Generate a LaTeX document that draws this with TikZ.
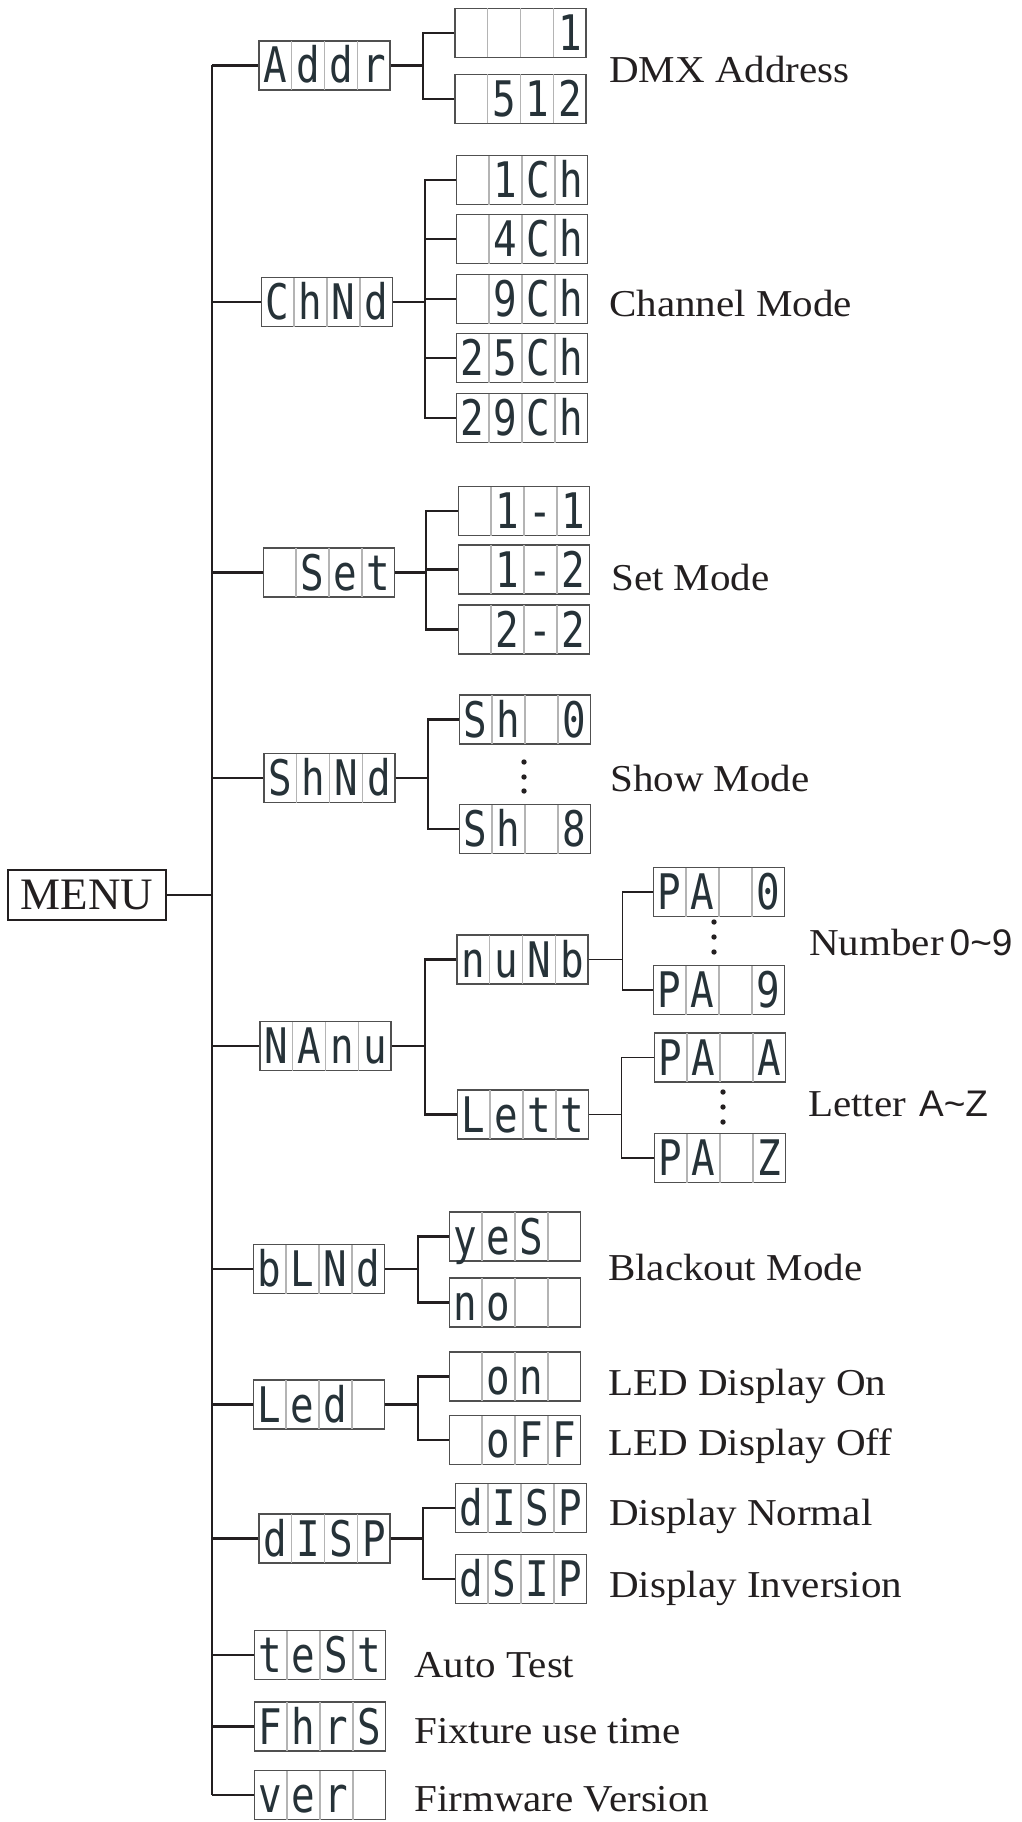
\documentclass[tikz,border=0pt]{standalone}
\usepackage{fontspec}
\setmainfont{Liberation Serif}
\newfontfamily\lblfont{Liberation Serif}[FakeStretch=1.08]
\newfontfamily\sansfont{Liberation Sans}
\newfontfamily\lcdfont{DejaVu Sans Mono}[FakeStretch=0.8]
\usepackage{tikz}
\usetikzlibrary{positioning}

\definecolor{ink}{HTML}{231F20}
\definecolor{lcdink}{HTML}{263238}
\definecolor{lcdframe}{HTML}{505050}
\definecolor{lcdsep}{HTML}{B4B4B4}
\newcommand\lcdcell[1]{\makebox[31.85pt]{#1}}
\newcommand\lcdbar{{\color{lcdsep}\vrule width 1.2pt height 42pt depth 7pt}}
\newcommand\lcd[4]{\lcdcell{#1}\lcdbar\lcdcell{#2}\lcdbar\lcdcell{#3}\lcdbar\lcdcell{#4}}

\begin{document}
\begin{tikzpicture}[x=1pt, y=-1pt,
lcdnode/.style={rectangle, draw=lcdframe, line width=1.2pt, inner sep=0pt, text height=42pt, text depth=7pt, text=lcdink, font=\lcdfont\fontsize{49}{49}\selectfont},
menunode/.style={rectangle, draw=ink, line width=1.6pt, minimum width=158pt, minimum height=50pt, inner sep=0pt, text=ink, font=\fontsize{45}{45}\selectfont},
labelnode/.style={anchor=base west, inner sep=0pt, text=ink, font=\lblfont\fontsize{38}{40}\selectfont},
link/.style={draw=ink, line width=2.2pt},
thinlink/.style={draw=ink, line width=1.6pt},
]
\useasboundingbox (0,0) rectangle (1021,1822);

%Nodes
\node[menunode]   (Menu)          at (87,895)       {MENU};
\node[lcdnode]    (Addr)          at (324.5,65.5)   {\lcd{A}{d}{d}{r}};
\node[lcdnode]    (ChNd)          at (327,302)      {\lcd{C}{h}{N}{d}};
\node[lcdnode]    (Set)           at (329,572.5)    {\lcd{}{S}{e}{t}};
\node[lcdnode]    (ShNd)          at (329.5,778)    {\lcd{S}{h}{N}{d}};
\node[lcdnode]    (NAnu)          at (325.5,1046)   {\lcd{N}{A}{n}{u}};
\node[lcdnode]    (bLNd)          at (319,1269)     {\lcd{b}{L}{N}{d}};
\node[lcdnode]    (LEd)           at (319,1404.5)   {\lcd{L}{e}{d}{}};
\node[lcdnode]    (dISP)          at (324.5,1538.5) {\lcd{d}{I}{S}{P}};
\node[lcdnode]    (tESt)          at (320,1655)     {\lcd{t}{e}{S}{t}};
\node[lcdnode]    (FhrS)          at (320,1726.5)   {\lcd{F}{h}{r}{S}};
\node[lcdnode]    (vEr)           at (320,1795)     {\lcd{v}{e}{r}{}};

\node[lcdnode]    (Addr1)         at (520.5,33)     {\lcd{}{}{}{1}};
\node[lcdnode]    (Addr512)       at (520.5,99)     {\lcd{}{5}{1}{2}};
\node[lcdnode]    (Ch1)           at (522,180)      {\lcd{}{1}{C}{h}};
\node[lcdnode]    (Ch4)           at (522,239)      {\lcd{}{4}{C}{h}};
\node[lcdnode]    (Ch9)           at (522,299)      {\lcd{}{9}{C}{h}};
\node[lcdnode]    (Ch25)          at (522,358)      {\lcd{2}{5}{C}{h}};
\node[lcdnode]    (Ch29)          at (522,418)      {\lcd{2}{9}{C}{h}};
\node[lcdnode]    (Set11)         at (524,511)      {\lcd{}{1}{-}{1}};
\node[lcdnode]    (Set12)         at (524,569.5)    {\lcd{}{1}{-}{2}};
\node[lcdnode]    (Set22)         at (524,629.5)    {\lcd{}{2}{-}{2}};
\node[lcdnode]    (Sh0)           at (525,719.5)    {\lcd{S}{h}{}{0}};
\node[lcdnode]    (Sh8)           at (525,829)      {\lcd{S}{h}{}{8}};
\node[lcdnode]    (NuNb)          at (522.5,959.5)  {\lcd{n}{u}{N}{b}};
\node[lcdnode]    (LEtt)          at (523,1114.5)   {\lcd{L}{e}{t}{t}};
\node[lcdnode]    (PA0)           at (719,892)      {\lcd{P}{A}{}{0}};
\node[lcdnode]    (PA9)           at (719,990)      {\lcd{P}{A}{}{9}};
\node[lcdnode]    (PAA)           at (720,1057.5)   {\lcd{P}{A}{}{A}};
\node[lcdnode]    (PAZ)           at (720,1158)     {\lcd{P}{A}{}{Z}};
\node[lcdnode]    (Yes)           at (515,1236.5)   {\lcd{y}{e}{S}{}};
\node[lcdnode]    (No)            at (515,1302.5)   {\lcd{n}{o}{}{}};
\node[lcdnode]    (On)            at (515,1376.5)   {\lcd{}{o}{n}{}};
\node[lcdnode]    (Off)           at (515,1440)     {\lcd{}{o}{F}{F}};
\node[lcdnode]    (DispNormal)    at (521,1508)     {\lcd{d}{I}{S}{P}};
\node[lcdnode]    (DispInversion) at (521,1579)     {\lcd{d}{S}{I}{P}};

\node[labelnode]  (DMXAddress)        at (609,83)    {DMX Address};
\node[labelnode]  (ChannelMode)       at (609,316)   {Channel Mode};
\node[labelnode]  (SetMode)           at (611,590)   {Set Mode};
\node[labelnode]  (ShowMode)          at (610,791)   {Show Mode};
\node[labelnode]  (NumberRange)       at (809,955)   {Number\hspace{6pt}{\sansfont\fontsize{37}{40}\selectfont 0\textasciitilde 9}};
\node[labelnode]  (LetterRange)       at (808,1116)  {Letter\hspace{13pt}{\sansfont\fontsize{37}{40}\selectfont A\textasciitilde Z}};
\node[labelnode]  (BlackoutMode)      at (608,1280)  {Blackout Mode};
\node[labelnode]  (LEDOn)             at (608,1395)  {LED Display On};
\node[labelnode]  (LEDOff)            at (608,1455)  {LED Display Off};
\node[labelnode]  (DisplayNormal)     at (609,1525)  {Display Normal};
\node[labelnode]  (DisplayInversion)  at (609,1597)  {Display Inversion};
\node[labelnode]  (AutoTest)          at (414,1677)  {Auto Test};
\node[labelnode]  (FixtureTime)       at (414,1743)  {Fixture use time};
\node[labelnode]  (FirmwareVersion)   at (414,1811)  {Firmware Version};

%Dots
\fill[ink] (524,762) circle (2.7pt) (524,777) circle (2.7pt) (524,791) circle (2.7pt);
\fill[ink] (714,922) circle (2.7pt) (714,937) circle (2.7pt) (714,952) circle (2.7pt);
\fill[ink] (723,1092) circle (2.7pt) (723,1107) circle (2.7pt) (723,1122) circle (2.7pt);

%Lines
\coordinate (TrunkTop)    at (212,65.5);
\coordinate (TrunkBottom) at (212,1795);
\draw[link] (TrunkTop) -- (TrunkBottom);
\draw[link] (Menu.east) -- (Menu.east -| TrunkTop);
\draw[link] (Addr.west) -- (Addr.west -| TrunkTop);
\draw[link] (ChNd.west) -- (ChNd.west -| TrunkTop);
\draw[link] (Set.west) -- (Set.west -| TrunkTop);
\draw[link] (ShNd.west) -- (ShNd.west -| TrunkTop);
\draw[link] (NAnu.west) -- (NAnu.west -| TrunkTop);
\draw[link] (bLNd.west) -- (bLNd.west -| TrunkTop);
\draw[link] (LEd.west) -- (LEd.west -| TrunkTop);
\draw[link] (dISP.west) -- (dISP.west -| TrunkTop);
\draw[link] (tESt.west) -- (tESt.west -| TrunkTop);
\draw[link] (FhrS.west) -- (FhrS.west -| TrunkTop);
\draw[link] (vEr.west) -- (vEr.west -| TrunkTop);

\draw[link] (Addr.east) -- ++(32,0) |- (Addr1.west);
\draw[link] (Addr.east) -- ++(32,0) |- (Addr512.west);
\draw[link] (ChNd.east) -- ++(32,0) |- (Ch1.west);
\draw[link] (ChNd.east) -- ++(32,0) |- (Ch4.west);
\draw[link] (ChNd.east) -- ++(32,0) |- (Ch9.west);
\draw[link] (ChNd.east) -- ++(32,0) |- (Ch25.west);
\draw[link] (ChNd.east) -- ++(32,0) |- (Ch29.west);
\draw[link] (Set.east) -- ++(31,0) |- (Set11.west);
\draw[link] (Set.east) -- ++(31,0) |- (Set12.west);
\draw[link] (Set.east) -- ++(31,0) |- (Set22.west);
\draw[link] (ShNd.east) -- ++(32,0) |- (Sh0.west);
\draw[link] (ShNd.east) -- ++(32,0) |- (Sh8.west);
\draw[link] (NAnu.east) -- ++(33,0) |- (NuNb.west);
\draw[link] (NAnu.east) -- ++(33,0) |- (LEtt.west);
\draw[thinlink] (NuNb.east) -- ++(34,0) |- (PA0.west);
\draw[thinlink] (NuNb.east) -- ++(34,0) |- (PA9.west);
\draw[thinlink] (LEtt.east) -- ++(32.5,0) |- (PAA.west);
\draw[thinlink] (LEtt.east) -- ++(32.5,0) |- (PAZ.west);
\draw[link] (bLNd.east) -- ++(32.5,0) |- (Yes.west);
\draw[link] (bLNd.east) -- ++(32.5,0) |- (No.west);
\draw[link] (LEd.east) -- ++(32.5,0) |- (On.west);
\draw[link] (LEd.east) -- ++(32.5,0) |- (Off.west);
\draw[link] (dISP.east) -- ++(32,0) |- (DispNormal.west);
\draw[link] (dISP.east) -- ++(32,0) |- (DispInversion.west);

\end{tikzpicture}
\end{document}
